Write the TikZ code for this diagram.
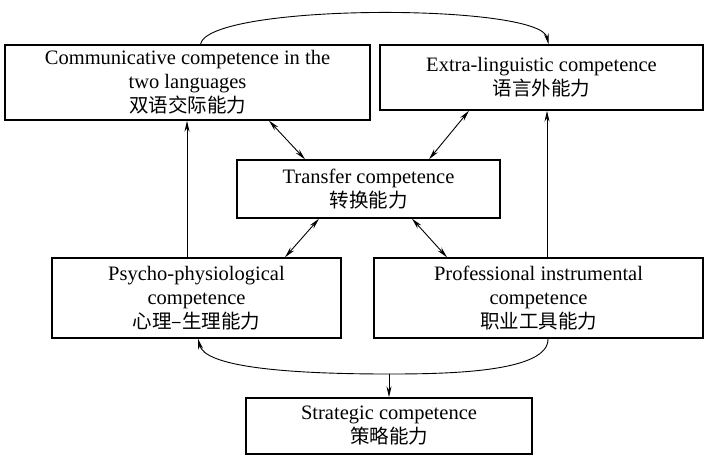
\documentclass[tikz,border=0pt]{standalone}
\usepackage{fontspec}
\setmainfont{Liberation Serif}
\newfontfamily\cjk{Noto Sans CJK SC}
\usetikzlibrary{arrows.meta}
\begin{document}
\begin{tikzpicture}[x=1pt,y=-1pt,
  box/.style={draw,line width=1.4pt,rectangle,align=center,inner sep=0pt,
    font=\fontsize{20.5}{24}\selectfont},
  conn/.style={line width=0.9pt,-{Stealth[length=11pt,width=5pt]}},
  biconn/.style={line width=0.9pt,{Stealth[length=11pt,width=5pt]}-{Stealth[length=11pt,width=5pt]}}]
\useasboundingbox (0,0) rectangle (708,464);
\node[box,minimum width=365pt,minimum height=75pt] (A) at (187.5,82.5)
  {Communicative competence in the\\two languages\\{\cjk\fontsize{19.5}{24}\selectfont 双语交际能力}};
\node[box,minimum width=323pt,minimum height=65pt] (B) at (541.5,77.5)
  {Extra-linguistic competence\\{\cjk\fontsize{19.5}{24}\selectfont 语言外能力}};
\node[box,minimum width=263pt,minimum height=58pt] (T) at (368.5,189)
  {Transfer competence\\{\cjk\fontsize{19.5}{24}\selectfont 转换能力}};
\node[box,minimum width=289pt,minimum height=80pt] (P) at (196.5,298)
  {Psycho-physiological\\competence\\{\cjk\fontsize{19.5}{24}\selectfont 心理–生理能力}};
\node[box,minimum width=329pt,minimum height=80pt] (R) at (538.5,298)
  {Professional instrumental\\competence\\{\cjk\fontsize{19.5}{24}\selectfont 职业工具能力}};
\node[box,minimum width=286pt,minimum height=56pt] (S) at (389,426)
  {Strategic competence\\{\cjk\fontsize{19.5}{24}\selectfont 策略能力}};
% top arc
\coordinate (a1) at ([xshift=13pt]A.north);
\coordinate (b1) at ([xshift=7pt]B.north);
\draw[conn] (a1) .. controls (208,3) and (540,3) .. (b1);
% double arrows around transfer
\draw[biconn] ([xshift=81.5pt]A.south) -- ([xshift=-63.5pt]T.north);
\draw[biconn] ([xshift=60.5pt]T.north) -- ([xshift=-72.5pt]B.south);
\draw[biconn] ([xshift=-49.5pt]T.south) -- ([xshift=88.5pt]P.north);
\draw[biconn] ([xshift=43.5pt]T.south) -- ([xshift=-91.5pt]R.north);
% verticals
\coordinate (p1) at ([xshift=-9.5pt]P.north);
\draw[conn] (p1) -- (p1 |- A.south);
\coordinate (r1) at ([xshift=8.5pt]R.north);
\draw[conn] (r1) -- (r1 |- B.south);
% bottom curve
\coordinate (r2) at ([xshift=9.5pt]R.south);
\coordinate (p2) at ([xshift=1.5pt]P.south);
\coordinate (m) at (389,374);
\draw[line width=0.9pt] (r2) .. controls (549,372) and (450,374) .. (m);
\draw[conn] (m) .. controls (280,374) and (205,366) .. (p2);
\draw[conn] (m) -- (S.north);
\end{tikzpicture}
\end{document}
